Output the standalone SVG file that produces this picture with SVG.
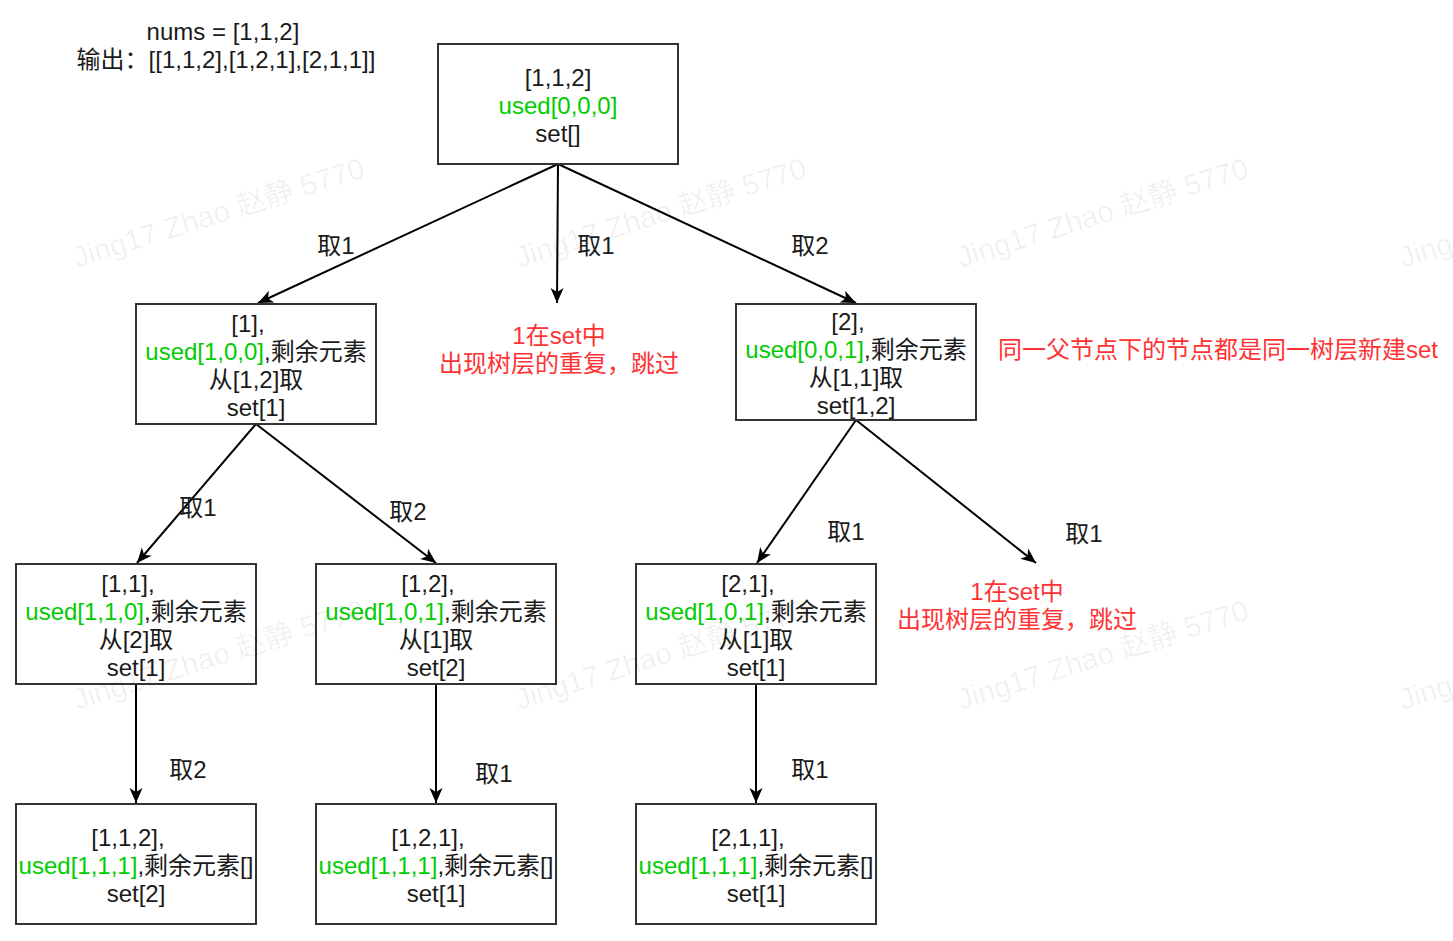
<svg xmlns="http://www.w3.org/2000/svg" width="1453" height="941" viewBox="0 0 1453 941">
<style>
text{font-family:"Liberation Sans","Noto Sans CJK SC",sans-serif;font-size:24px;fill:#1a1a1a}
.c{text-anchor:middle}
.g{fill:#00cc00}
.r{fill:#ff3333}
.box{fill:#fff;stroke:#333;stroke-width:2}
.edge{stroke:#000;stroke-width:2;fill:none;marker-end:url(#arr)}
.wm{font-size:29.5px;fill:#000;fill-opacity:0.06}
</style>
<defs>
<marker id="arr" viewBox="-16 -8 18 16" refX="0" refY="0" markerWidth="18" markerHeight="16" markerUnits="userSpaceOnUse" orient="auto">
<path d="M0,0 L-15,-6.5 L-11,0 L-15,6.5 Z" fill="#000"/>
</marker>
</defs>
<rect width="1453" height="941" fill="#fff"/>

<g id="info">
<text class="c" x="223" y="40">nums = [1,1,2]</text>
<text class="c" x="226" y="68">输出：[[1,1,2],[1,2,1],[2,1,1]]</text>
</g>

<g id="connectors">
<path class="edge" d="M558,164 L258,303"/>
<path class="edge" d="M558,164 L557,303"/>
<path class="edge" d="M558,164 L856,303"/>
<path class="edge" d="M256,424 L137,563"/>
<path class="edge" d="M256,424 L436,563"/>
<path class="edge" d="M856,420 L757,563"/>
<path class="edge" d="M856,420 L1036,563"/>
<path class="edge" d="M136,684 L136,803"/>
<path class="edge" d="M436,684 L436,803"/>
<path class="edge" d="M756,684 L756,803"/>
<text class="c" x="336" y="254">取1</text>
<text class="c" x="596" y="254">取1</text>
<text class="c" x="810" y="254">取2</text>
<text class="c" x="198" y="516">取1</text>
<text class="c" x="408" y="520">取2</text>
<text class="c" x="846" y="540">取1</text>
<text class="c" x="1084" y="542">取1</text>
<text class="c" x="188" y="778">取2</text>
<text class="c" x="494" y="782">取1</text>
<text class="c" x="810" y="778">取1</text>
</g>

<g id="root">
<rect class="box" x="438" y="44" width="240" height="120"/>
<text class="c" x="558" y="86">[1,1,2]</text>
<text class="c g" x="558" y="114">used[0,0,0]</text>
<text class="c" x="558" y="142">set[]</text>
</g>

<g id="n1">
<rect class="box" x="136" y="304" width="240" height="120"/>
<text class="c" x="248" y="332">[1],</text>
<text class="c" x="256" y="360"><tspan class="g">used[1,0,0]</tspan>,剩余元素</text>
<text class="c" x="256" y="388">从[1,2]取</text>
<text class="c" x="256" y="416">set[1]</text>
</g>

<g id="skip1">
<text class="c r" x="559" y="344">1在set中</text>
<text class="c r" x="559" y="372">出现树层的重复，跳过</text>
</g>

<g id="n2">
<rect class="box" x="736" y="304" width="240" height="116"/>
<text class="c" x="848" y="330">[2],</text>
<text class="c" x="856" y="358"><tspan class="g">used[0,0,1]</tspan>,剩余元素</text>
<text class="c" x="856" y="386">从[1,1]取</text>
<text class="c" x="856" y="414">set[1,2]</text>
</g>

<g id="note">
<text class="r" x="998" y="358">同一父节点下的节点都是同一树层新建set</text>
</g>

<g id="n11">
<rect class="box" x="16" y="564" width="240" height="120"/>
<text class="c" x="128" y="592">[1,1],</text>
<text class="c" x="136" y="620"><tspan class="g">used[1,1,0]</tspan>,剩余元素</text>
<text class="c" x="136" y="648">从[2]取</text>
<text class="c" x="136" y="676">set[1]</text>
</g>

<g id="n12">
<rect class="box" x="316" y="564" width="240" height="120"/>
<text class="c" x="428" y="592">[1,2],</text>
<text class="c" x="436" y="620"><tspan class="g">used[1,0,1]</tspan>,剩余元素</text>
<text class="c" x="436" y="648">从[1]取</text>
<text class="c" x="436" y="676">set[2]</text>
</g>

<g id="n21">
<rect class="box" x="636" y="564" width="240" height="120"/>
<text class="c" x="748" y="592">[2,1],</text>
<text class="c" x="756" y="620"><tspan class="g">used[1,0,1]</tspan>,剩余元素</text>
<text class="c" x="756" y="648">从[1]取</text>
<text class="c" x="756" y="676">set[1]</text>
</g>

<g id="skip2">
<text class="c r" x="1017" y="600">1在set中</text>
<text class="c r" x="1017" y="628">出现树层的重复，跳过</text>
</g>

<g id="n112">
<rect class="box" x="16" y="804" width="240" height="120"/>
<text class="c" x="128" y="846">[1,1,2],</text>
<text class="c" x="136" y="874"><tspan class="g">used[1,1,1]</tspan>,剩余元素[]</text>
<text class="c" x="136" y="902">set[2]</text>
</g>

<g id="n121">
<rect class="box" x="316" y="804" width="240" height="120"/>
<text class="c" x="428" y="846">[1,2,1],</text>
<text class="c" x="436" y="874"><tspan class="g">used[1,1,1]</tspan>,剩余元素[]</text>
<text class="c" x="436" y="902">set[1]</text>
</g>

<g id="n211">
<rect class="box" x="636" y="804" width="240" height="120"/>
<text class="c" x="748" y="846">[2,1,1],</text>
<text class="c" x="756" y="874"><tspan class="g">used[1,1,1]</tspan>,剩余元素[]</text>
<text class="c" x="756" y="902">set[1]</text>
</g>

<g id="watermark">
<text class="wm" transform="translate(77,268) rotate(-17.5)">Jing17 Zhao 赵静 5770</text>
<text class="wm" transform="translate(519,268) rotate(-17.5)">Jing17 Zhao 赵静 5770</text>
<text class="wm" transform="translate(961,268) rotate(-17.5)">Jing17 Zhao 赵静 5770</text>
<text class="wm" transform="translate(1403,268) rotate(-17.5)">Jing17 Zhao 赵静 5770</text>
<text class="wm" transform="translate(77,710) rotate(-17.5)">Jing17 Zhao 赵静 5770</text>
<text class="wm" transform="translate(519,710) rotate(-17.5)">Jing17 Zhao 赵静 5770</text>
<text class="wm" transform="translate(961,710) rotate(-17.5)">Jing17 Zhao 赵静 5770</text>
<text class="wm" transform="translate(1403,710) rotate(-17.5)">Jing17 Zhao 赵静 5770</text>
</g>
</svg>
